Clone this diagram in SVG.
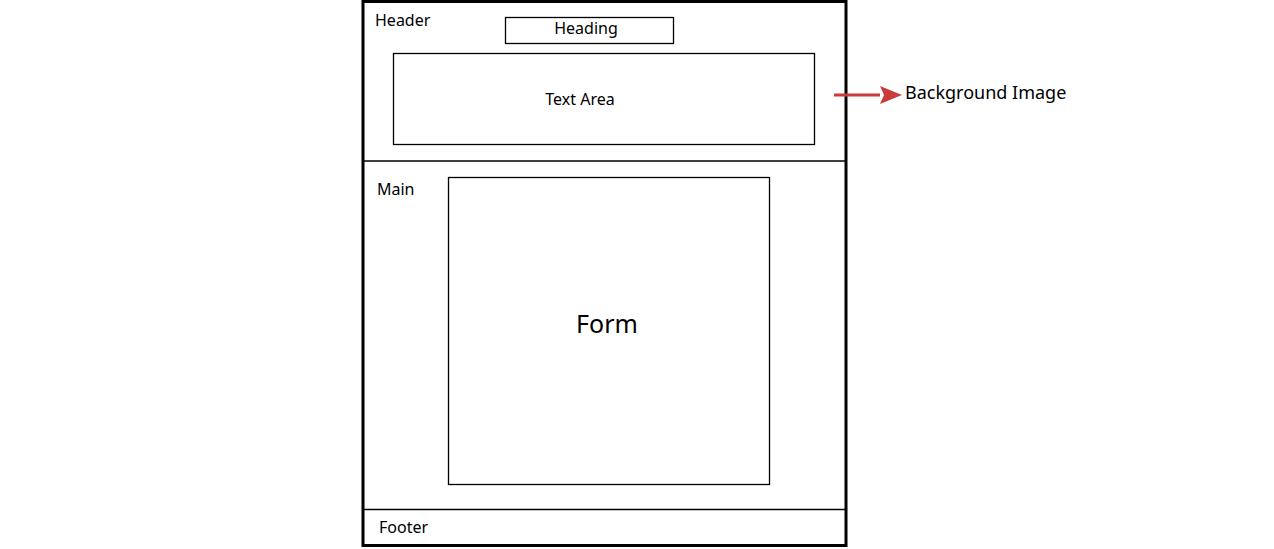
<svg xmlns="http://www.w3.org/2000/svg" width="1274" height="549" viewBox="0 0 1274 549">
<defs>
<style>
text{font-family:"Noto Sans","Open Sans","DejaVu Sans",sans-serif;fill:#000}
.box{fill:none;stroke:#000;stroke-width:1.3}
.lbl{font-size:16px}
</style>
</defs>
<rect width="1274" height="549" fill="#fff"/>
<g id="page">
<rect x="363" y="1.5" width="483" height="544" fill="none" stroke="#000" stroke-width="3"/>
</g>
<g id="header">
<line x1="363" y1="161" x2="846" y2="161" stroke="#000" stroke-width="1.3"/>
<text class="lbl" x="375" y="26">Header</text>
</g>
<g id="heading">
<rect class="box" x="505.5" y="17.5" width="168" height="26"/>
<text class="lbl" x="586" y="34" text-anchor="middle">Heading</text>
</g>
<g id="textarea">
<rect class="box" x="393.5" y="53.5" width="421" height="91"/>
<text class="lbl" x="580" y="105" text-anchor="middle">Text Area</text>
</g>
<g id="main">
<text class="lbl" x="377" y="195">Main</text>
</g>
<g id="form">
<rect class="box" x="448.5" y="177.5" width="321" height="307"/>
<text x="607" y="333" font-size="25" text-anchor="middle">Form</text>
</g>
<g id="footer">
<line x1="363" y1="509.5" x2="846" y2="509.5" stroke="#000" stroke-width="1.3"/>
<text class="lbl" x="379" y="533">Footer</text>
</g>
<g id="bgimage">
<text x="905" y="99" font-size="18">Background Image</text>
</g>
<g id="connectors">
<path d="M834,95 H880" stroke="#cc3b3b" stroke-width="3" fill="none"/>
<path d="M880,86 L902,95 L880,104 L884,95 Z" fill="#cc3b3b"/>
</g>
</svg>
